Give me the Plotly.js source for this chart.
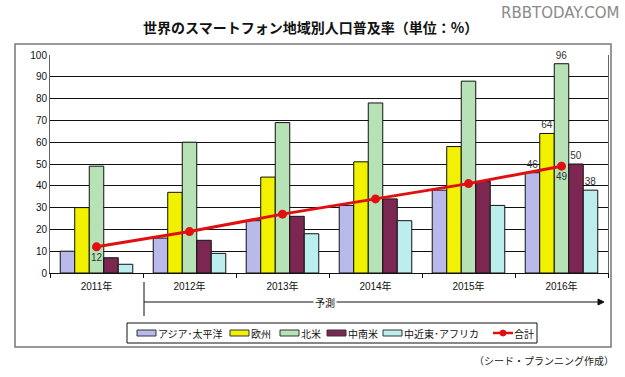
<!DOCTYPE html>
<html><head><meta charset="utf-8">
<script src="https://cdn.plot.ly/plotly-3.0.1.min.js"></script>
<style>body{margin:0;background:#fff}</style>
</head><body><div id="chart" style="width:625px;height:377px"></div>
<script>
const years = ['2011年','2012年','2013年','2014年','2015年','2016年'];
const asiaPacific = [10, 16, 24, 31, 38, 46];
const europe      = [30, 37, 44, 51, 58, 64];
const northAmerica= [49, 60, 69, 78, 88, 96];
const latinAmerica= [7, 15, 26, 34, 42, 50];
const meAfrica    = [4, 9, 18, 24, 31, 38];
const total       = [12, 19, 27, 34, 41, 49];
const seriesNames = ['アジア･太平洋','欧州','北米','中南米','中近東･アフリカ','合計'];
const colors = ['#b9b9ec','#f2f200','#b6e2b6','#7b2752','#bdeeee','#e01010'];

const F = 'Liberation Sans, Arial, Noto Sans CJK JP, sans-serif';
const JP = 'Noto Sans CJK JP, sans-serif';

function lastOnly(arr){ return arr.map((v,i)=> i===arr.length-1 ? String(v) : ''); }

const barSeries = [asiaPacific, europe, northAmerica, latinAmerica, meAfrica];
const traces = barSeries.map((vals, k) => ({
  type:'bar', x: years, y: vals, name: seriesNames[k],
  marker:{color: colors[k], line:{color:'#111', width:1}},
  text: lastOnly(vals), textposition:'outside', cliponaxis:false,
  textfont:{family:F, size:10, color:'#333'}
}));
traces.push({
  type:'scatter', mode:'lines+markers+text', x: years, y: total, name: seriesNames[5],
  line:{color: colors[5], width:3}, marker:{color: colors[5], size:9},
  text: total.map((v,i)=> (i===0 || i===total.length-1) ? String(v) : ''),
  textposition:'bottom center', textfont:{family:F, size:10, color:'#333'}
});

const px = x => (x-50)/558, py = y => (273-y)/218;

// custom legend (positions in pixels of the page)
const legendX = [137, 230, 280, 327, 383, 493];
const legendY = 333;
const shapes = [
  {type:'rect', xref:'paper', yref:'paper', x0:px(15), x1:px(611), y0:py(347), y1:py(44), line:{color:'#777', width:1.5}},
  {type:'line', xref:'paper', yref:'paper', x0:px(144), x1:px(144), y0:py(282), y1:py(316), line:{color:'#111', width:1}},
  {type:'line', xref:'paper', yref:'paper', x0:px(144), x1:px(598), y0:py(302), y1:py(302), line:{color:'#111', width:1}},
  {type:'path', xref:'paper', yref:'paper',
   path:`M ${px(598)} ${py(299)} L ${px(604)} ${py(302)} L ${px(598)} ${py(305)} Z`, fillcolor:'#111', line:{color:'#111', width:1}},
  {type:'rect', xref:'paper', yref:'paper', x0:px(127), x1:px(537), y0:py(343), y1:py(323), line:{color:'#111', width:1}, fillcolor:'rgba(0,0,0,0)'}
];
const annotations = [
  {xref:'paper', yref:'paper', x:px(325), y:py(302), text:'予測', showarrow:false, bgcolor:'#fff',
   font:{family:JP, size:10, color:'#111'}, xanchor:'center', yanchor:'middle'},
  {xref:'paper', yref:'paper', x:px(616), y:py(360), text:'（シード・プランニング作成）', showarrow:false,
   font:{family:JP, size:10, color:'#222'}, xanchor:'right', yanchor:'middle'},
  {xref:'paper', yref:'paper', x:px(621), y:py(13), text:'RBBTODAY.COM', showarrow:false,
   font:{family:'DejaVu Sans, sans-serif', size:15, color:'#8a8a8a'}, xanchor:'right', yanchor:'middle'}
];
seriesNames.forEach((name, k) => {
  const x0 = legendX[k];
  if (k < 5) {
    shapes.push({type:'rect', xref:'paper', yref:'paper', x0:px(x0), x1:px(x0+19), y0:py(legendY+3), y1:py(legendY-3),
                 fillcolor: colors[k], line:{color:'#333', width:1}});
  } else {
    shapes.push({type:'line', xref:'paper', yref:'paper', x0:px(x0), x1:px(x0+20), y0:py(legendY), y1:py(legendY),
                 line:{color: colors[k], width:2.5}});
    shapes.push({type:'circle', xref:'paper', yref:'paper', x0:px(x0+7), x1:px(x0+13), y0:py(legendY+3), y1:py(legendY-3),
                 fillcolor: colors[k], line:{color: colors[k], width:1}});
  }
  annotations.push({xref:'paper', yref:'paper', x:px(x0+20), y:py(legendY), text:name, showarrow:false,
    xanchor:'left', yanchor:'middle', font:{family:JP, size:10, color:'#111'}, borderpad:0});
});

const layout = {
  width:625, height:377,
  margin:{l:50, r:17, t:55, b:104},
  paper_bgcolor:'#fff', plot_bgcolor:'#fff',
  font:{family:F, size:10, color:'#111'},
  barmode:'group', bargap:0.22, bargroupgap:0,
  title:{text:'<b>世界のスマートフォン地域別人口普及率（単位：%）</b>', font:{family:JP, size:14, color:'#111'},
         x:0.497, xanchor:'center', y:1-28/377, yanchor:'middle'},
  xaxis:{type:'category', showline:true, linecolor:'#111', ticks:'outside', tickson:'boundaries',
         ticklen:4, tickcolor:'#111', tickfont:{family:F, size:10}, showgrid:false, ticklabelstandoff:4},
  yaxis:{range:[0,100], dtick:10, showgrid:true, gridcolor:'#111', gridwidth:1,
         showline:true, mirror:true, linecolor:'#666', ticks:'', tickfont:{family:F, size:10}, zeroline:false},
  showlegend:false,
  shapes: shapes,
  annotations: annotations
};

Plotly.newPlot('chart', traces, layout, {displayModeBar:false, staticPlot:true});
</script></body></html>
